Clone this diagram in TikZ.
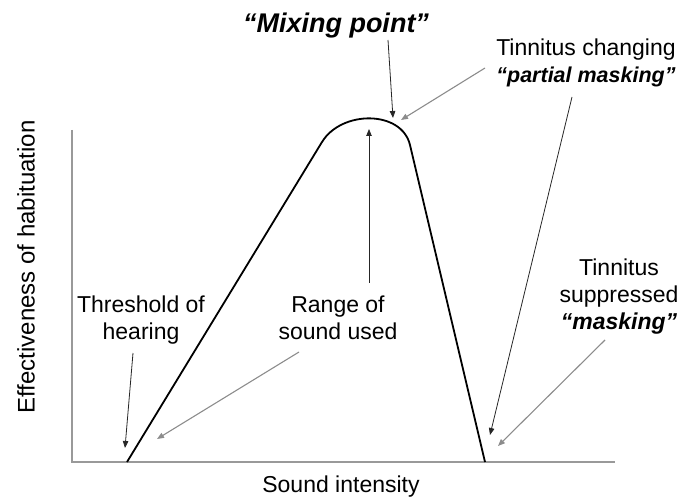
\documentclass[tikz,border=0pt]{standalone}
\usepackage{fontspec}
\setmainfont{Liberation Sans}
\usetikzlibrary{arrows.meta}
\begin{document}
\begin{tikzpicture}[x=1pt,y=-1pt,
  lbl/.style={font=\fontsize{23}{27}\selectfont,align=center,inner sep=0pt,anchor=north},
  ptr/.style={-{Triangle[length=7pt,width=5.5pt]},line width=0.8pt,black!85},
  gptr/.style={ptr,black!45,line width=1.1pt}]
\useasboundingbox (0,0) rectangle (683,497);

% axes
\coordinate (origin) at (72,462);
\coordinate (ytop) at (72,130);
\coordinate (xend) at (615,462);
\draw[black!40,line width=1.4pt] (ytop) -- (origin) -- (xend);
\node[font=\fontsize{24}{27}\selectfont,rotate=90] (ylab) at (26,267) {Effectiveness of habituation};
\node[lbl] (xlab) at (341,476) {Sound intensity};

% curve
\draw[line width=1.8pt] (127,462) -- (322,142) .. controls (341.5,110) and (401.7,110) .. (410,145) -- (485,462);

% labels
\node[lbl,font=\fontsize{27}{30}\selectfont\bfseries\itshape] (mix) at (336,13) {``Mixing point''};
\node[lbl] (partial) at (586,39) {Tinnitus changing\\{\fontsize{21.5}{27}\selectfont\bfseries\itshape ``partial masking''}};
\node[lbl] (thresh) at (141,296) {Threshold of\\hearing};
\node[lbl] (range) at (338,296) {Range of\\sound used};
\node[lbl] (mask) at (619,259) {Tinnitus\\suppressed\\{\bfseries\itshape ``masking''}};

% arrows
\coordinate (thS) at (133,353);  \coordinate (thE) at (125,448);
\coordinate (raS) at (299,352);  \coordinate (raE) at (157,439);
\coordinate (rvS) at (369,283);  \coordinate (rvE) at (369,129);
\coordinate (mxS) at (388,40);   \coordinate (mxE) at (393,118);
\coordinate (p1S) at (485,68);   \coordinate (p1E) at (401,120);
\coordinate (p2S) at (572,97);   \coordinate (p2E) at (490,435);
\coordinate (msS) at (605,340);  \coordinate (msE) at (498,446);
\draw[ptr] (thS) -- (thE);
\draw[gptr] (raS) -- (raE);
\draw[ptr] (rvS) -- (rvE);
\draw[ptr] (mxS) -- (mxE);
\draw[gptr] (p1S) -- (p1E);
\draw[ptr] (p2S) -- (p2E);
\draw[gptr] (msS) -- (msE);
\end{tikzpicture}
\end{document}
